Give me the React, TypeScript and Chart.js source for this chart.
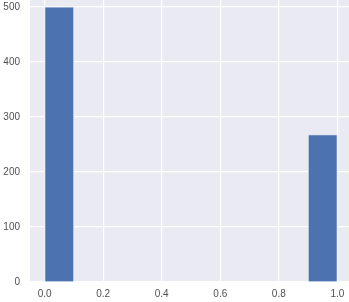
import React, { useEffect, useRef } from "react";
import { Chart, registerables } from "chart.js";

Chart.register(...registerables);

const binCenters = [0.05, 0.15, 0.25, 0.35, 0.45, 0.55, 0.65, 0.75, 0.85, 0.95];
const binCounts = [500, 0, 0, 0, 0, 0, 0, 0, 0, 268];
const xTicks = [0, 0.2, 0.4, 0.6, 0.8, 1.0];
const yTicks = [0, 100, 200, 300, 400, 500];

export default function App() {
  const ref = useRef<HTMLCanvasElement>(null);
  useEffect(() => {
    document.body.style.overflow = "hidden";
    const chart = new Chart(ref.current!, {
      type: "bar",
      data: {
        datasets: [
          {
            data: binCenters.map((x, i) => ({ x, y: binCounts[i] })),
            backgroundColor: "#4C72B0",
            borderColor: "#DCE4F2",
            borderWidth: 1,
            categoryPercentage: 1,
            barPercentage: 1,
          },
        ],
      },
      options: {
        animation: false,
        responsive: true,
        maintainAspectRatio: false,
        layout: { padding: 0 },
        plugins: { legend: { display: false }, tooltip: { enabled: false } },
        scales: {
          x: {
            type: "linear",
            offset: false,
            min: -0.05,
            max: 1.05,
            afterBuildTicks: (s: any) => {
              s.ticks = xTicks.map((v) => ({ value: v }));
            },
            afterFit: (s: any) => {
              s.height = 21;
              s.paddingLeft = 0;
              s.paddingRight = 0;
            },
            grid: { color: "#ffffff", lineWidth: 1.2, drawTicks: false, offset: false },
            border: { display: false },
            ticks: {
              padding: 6,
              color: "#505050",
              font: { family: "Liberation Sans", size: 10 },
              callback: (v: any) => Number(v).toFixed(1),
              maxRotation: 0,
            },
          },
          y: {
            min: 0,
            max: 525,
            afterBuildTicks: (s: any) => {
              s.ticks = yTicks.map((v) => ({ value: v }));
            },
            afterFit: (s: any) => {
              s.width = 30;
              s.paddingTop = 0;
              s.paddingBottom = 0;
            },
            grid: { color: "#ffffff", lineWidth: 1.2, drawTicks: false },
            border: { display: false },
            ticks: {
              padding: 10,
              color: "#505050",
              font: { family: "Liberation Sans", size: 10 },
            },
          },
        },
      },
      plugins: [
        {
          id: "bg",
          beforeDraw: (c: any) => {
            const { ctx, chartArea: a } = c;
            ctx.save();
            ctx.fillStyle = "#EAEAF2";
            ctx.fillRect(a.left, a.top, a.right - a.left, a.bottom - a.top);
            ctx.restore();
          },
        },
      ],
    } as any);
    return () => chart.destroy();
  }, []);
  return (
    <div
      style={{
        position: "fixed",
        left: 0,
        top: -7,
        width: 352,
        height: 310,
        background: "#fff",
      }}
    >
      <canvas ref={ref} />
    </div>
  );
}
